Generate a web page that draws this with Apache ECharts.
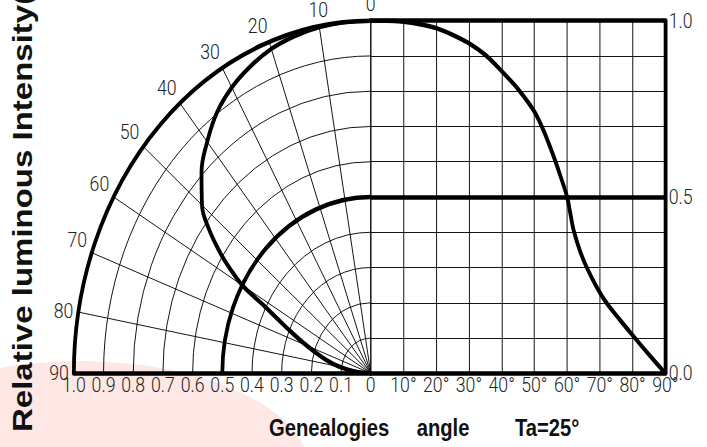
<!DOCTYPE html>
<html>
<head>
<meta charset="utf-8">
<script src="https://cdn.jsdelivr.net/npm/echarts@6/dist/echarts.min.js"></script>
<style>
  html, body { margin: 0; padding: 0; background: #fff; overflow: hidden; }
  /* the source figure is squeezed sideways (polar part is an ellipse), so draw wide and squeeze */
  #chart { width: 839.7px; height: 447px; transform: scaleX(0.842); transform-origin: 0 0; }
</style>
</head>
<body>
<div id="chart"></div>
<script>
// radiation pattern, relative intensity vs angle
const angles = [0, 5, 10, 15, 20, 25, 30, 35, 40, 45, 50, 53, 56, 58, 60, 61, 62, 64, 66, 69, 72, 76, 80, 85, 90]
const intensity = [1.0, 1.0, 0.997, 0.99, 0.979, 0.96, 0.936, 0.903, 0.857, 0.806, 0.742, 0.684, 0.612, 0.558, 0.5, 0.452, 0.405, 0.345, 0.3, 0.245, 0.2, 0.153, 0.108, 0.053, 0]
const yLabels = [0, 0.5, 1.0]
const halfRing = 0.5

const myChart = echarts.init(document.getElementById("chart"), null, { renderer: "svg" })

const cx = 440.3, cy = 373.3, R = 352.6
const labelFont = { fontFamily: "Roboto", fontWeight: 300, fontSize: 21, color: "#222" }
const thick = { color: "#000", width: 4.5 }
const thin = { color: "#000", width: 1 }
const titleFont = "bold 24px 'Liberation Sans', Arial, sans-serif"

const option = {
	animation: false,
	backgroundColor: "#fff",
	polar: [
		{ center: [cx, cy], radius: R },
		{ center: [cx, cy], radius: R * halfRing },
	],
	angleAxis: [
		{
			polarIndex: 0,
			type: "value",
			min: 0,
			max: 90,
			interval: 10,
			startAngle: 90,
			endAngle: 180,
			clockwise: false,
			axisLine: { lineStyle: thick },
			axisTick: { show: false },
			axisLabel: { ...labelFont, margin: 6 },
			splitLine: { lineStyle: thin },
		},
		{
			polarIndex: 1,
			type: "value",
			min: 0,
			max: 90,
			startAngle: 90,
			endAngle: 180,
			clockwise: false,
			axisLine: { lineStyle: thick },
			axisTick: { show: false },
			axisLabel: { show: false },
			splitLine: { show: false },
		},
	],
	radiusAxis: [
		{
			polarIndex: 0,
			type: "value",
			min: 0,
			max: 1,
			interval: 0.1,
			axisLine: { show: false },
			axisTick: { show: false },
			axisLabel: { show: false },
			splitLine: { lineStyle: thin },
		},
		{ polarIndex: 1, type: "value", min: 0, max: 1, show: false },
	],
	grid: [
		// left: only carries the 1.0 ... 0.1 scale under the polar part
		{ left: cx - R, top: cy - R, width: R, height: R },
		// right: angle in degrees
		{ left: cx, top: cy - R, width: 349.9, height: R },
	],
	xAxis: [
		{
			gridIndex: 0,
			type: "value",
			min: 0,
			max: 1,
			interval: 0.1,
			inverse: true,
			axisLine: { onZero: false, lineStyle: thick },
			axisTick: { show: false },
			splitLine: { show: false },
			axisLabel: {
				...labelFont,
				margin: 1,
				formatter: (v) => (v === 0 ? "" : v.toFixed(1)),
			},
		},
		{
			gridIndex: 1,
			type: "value",
			min: 0,
			max: 90,
			interval: 10,
			axisLine: { onZero: false, lineStyle: thick },
			axisTick: { show: false },
			splitLine: { lineStyle: thin },
			axisLabel: {
				...labelFont,
				margin: 1,
				formatter: (v) => (v === 0 ? "0" : v + "°"),
			},
		},
		{
			gridIndex: 1,
			type: "value",
			position: "top",
			min: 0,
			max: 90,
			axisLine: { onZero: false, lineStyle: thick },
			axisTick: { show: false },
			axisLabel: { show: false },
			splitLine: { show: false },
		},
	],
	yAxis: [
		{ gridIndex: 0, type: "value", min: 0, max: 1, show: false },
		{
			gridIndex: 1,
			type: "value",
			position: "right",
			min: 0,
			max: 1,
			interval: 0.1,
			axisLine: { show: true, onZero: false, lineStyle: thick },
			axisTick: { show: false },
			splitLine: { lineStyle: thin },
			axisLabel: {
				...labelFont,
				margin: 4,
				formatter: (v) => (yLabels.some((t) => Math.abs(t - v) < 1e-6) ? v.toFixed(1) : ""),
			},
		},
	],
	graphic: [
		{
			type: "circle",
			z: -10,
			silent: true,
			x: 95,
			y: 471,
			scaleY: 0.403,
			shape: { cx: 0, cy: 0, r: 273 },
			style: { fill: "#fde8e6" },
		},
		{
			type: "text",
			z: 100,
			x: 26.1,
			y: 432,
			rotation: Math.PI / 2,
			style: {
				text: "Relative luminous Intensity(",
				font: "bold 33px 'Liberation Sans', Arial, sans-serif",
				fill: "#111",
				align: "left",
				verticalAlign: "middle",
			},
		},
		{
			type: "text",
			z: 100,
			x: 319.5,
			y: 428,
			style: { text: "Genealogies", font: titleFont, fill: "#111", align: "left", verticalAlign: "middle" },
		},
		{
			type: "text",
			z: 100,
			x: 494.9,
			y: 428,
			style: { text: "angle", font: titleFont, fill: "#111", align: "left", verticalAlign: "middle" },
		},
		{
			type: "text",
			z: 100,
			x: 611.6,
			y: 428,
			style: { text: "Ta=25°", font: titleFont, fill: "#111", align: "left", verticalAlign: "middle" },
		},
	],
	series: [
		{
			type: "line",
			coordinateSystem: "polar",
			polarIndex: 0,
			smooth: 0.4,
			showSymbol: false,
			lineStyle: { color: "#000", width: 4.5 },
			data: angles.map((a, i) => [intensity[i], a]),
		},
		{
			type: "line",
			xAxisIndex: 1,
			yAxisIndex: 1,
			smooth: 0.3,
			showSymbol: false,
			lineStyle: { color: "#000", width: 4.5 },
			data: angles.map((a, i) => [a, intensity[i]]),
			markLine: {
				silent: true,
				symbol: "none",
				label: { show: false },
				lineStyle: { color: "#000", width: 4.5, type: "solid" },
				data: [{ yAxis: halfRing }],
			},
		},
	],
}

option && myChart.setOption(option)
</script>
</body>
</html>
